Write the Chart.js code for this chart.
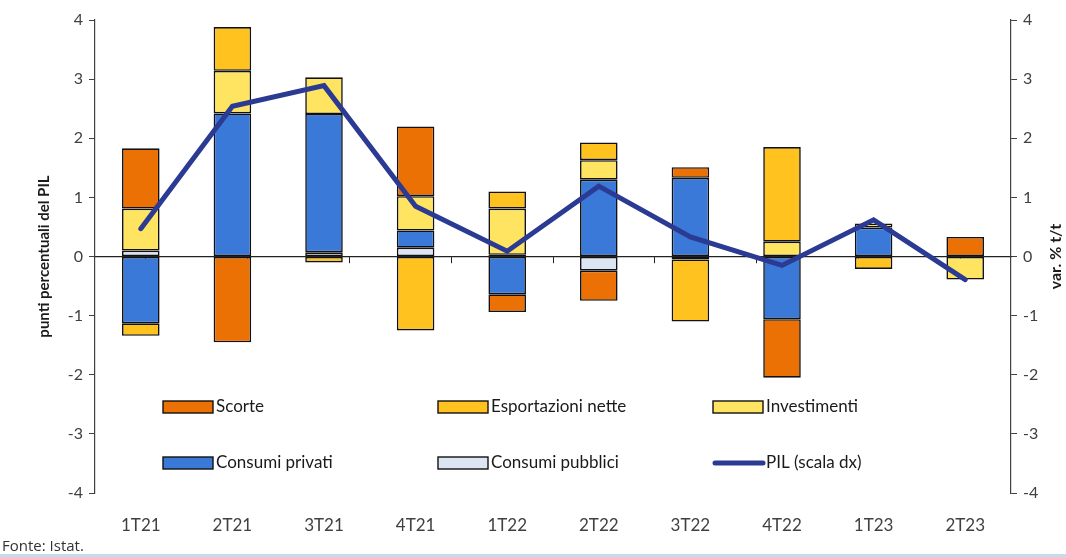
<!DOCTYPE html>
<html lang="it">
<head>
<meta charset="utf-8">
<title>Contributi alla crescita del PIL</title>
<script src="https://cdn.jsdelivr.net/npm/chart.js@4.4.1/dist/chart.umd.min.js"></script>
<style>
    html, body { margin: 0; padding: 0; background: #fff; }
    #contenitore { position: relative; width: 1066px; height: 557px; }
    #fonte { position: absolute; left: 2px; top: 535px; font: 15px 'Open Sans', sans-serif; color: #333; }
    #riga { position: absolute; left: 0; right: 0; bottom: 0; height: 3px; background: #c4dcf0; }
</style>
</head>
<body>
<div id="contenitore">
    <canvas id="grafico"></canvas>
    <div id="fonte">Fonte: Istat.</div>
    <div id="riga"></div>
</div>
<script>
// trimestri e contributi (punti percentuali del PIL)
const trimestri = ['1T21', '2T21', '3T21', '4T21', '1T22', '2T22', '3T22', '4T22', '1T23', '2T23'];
const consumi_pubblici   = [0.10, null, 0.07, 0.15, 0.03, -0.24, -0.05, null, null, null];
const consumi_privati    = [-1.13, 2.42, 2.34, 0.29, -0.64, 1.30, 1.33, -1.06, 0.49, null];
const investimenti       = [0.71, 0.72, 0.62, 0.58, 0.78, 0.33, null, 0.25, 0.07, -0.39];
const esportazioni_nette = [-0.21, 0.74, -0.10, -1.25, 0.29, 0.30, -1.05, 1.60, -0.21, null];
const scorte             = [1.02, -1.45, null, 1.18, -0.30, -0.51, 0.18, -0.99, null, 0.33];
// PIL, var. % t/t (scala destra)
const pil = [0.47, 2.54, 2.89, 0.85, 0.09, 1.19, 0.33, -0.15, 0.62, -0.39];
// etichette degli assi verticali
const tacche = [-4, -3, -2, -1, 0, 1, 2, 3, 4];

const grigio = '#404040';
const bordo_barre = '#111';

function serie_barre(nome, valori, colore) {
    return {
        type: 'bar',
        label: nome,
        data: valori,
        backgroundColor: colore,
        borderColor: bordo_barre,
        borderWidth: 1.6,
        borderSkipped: false,
        categoryPercentage: 1,
        barPercentage: 0.41,
        order: 1
    }
}

// legenda disegnata dentro l'area del grafico, 3 colonne x 2 righe
const legenda_interna = {
    id: 'legenda_interna',
    afterDraw(chart) {
        const ctx = chart.ctx
        const area = chart.chartArea
        const ds = chart.data.datasets
        const voci = [
            [ds[4], 0, 0], [ds[3], 1, 0], [ds[2], 2, 0],
            [ds[1], 0, 1], [ds[0], 1, 1], [ds[5], 2, 1]
        ]
        ctx.save()
        ctx.font = '17px Lato'
        ctx.textBaseline = 'middle'
        ctx.textAlign = 'left'
        voci.forEach(([d, col, riga]) => {
            const x = area.left + 68 + col * 275
            const y = area.bottom - 86 + riga * 56
            if (d.type === 'line') {
                ctx.strokeStyle = d.borderColor
                ctx.lineWidth = 5
                ctx.lineCap = 'round'
                ctx.beginPath()
                ctx.moveTo(x + 2, y)
                ctx.lineTo(x + 50, y)
                ctx.stroke()
            } else {
                ctx.fillStyle = d.backgroundColor
                ctx.fillRect(x, y - 6, 50, 12)
                ctx.strokeStyle = bordo_barre
                ctx.lineWidth = 1.4
                ctx.strokeRect(x, y - 6, 50, 12)
            }
            ctx.fillStyle = '#1a1a1a'
            ctx.fillText(d.label, x + 53, y)
        })
        ctx.restore()
    }
}

// titoli degli assi verticali, entrambi ruotati dal basso verso l'alto
const titoli_assi = {
    id: 'titoli_assi',
    afterDraw(chart) {
        const ctx = chart.ctx
        const area = chart.chartArea
        const centro = (area.top + area.bottom) / 2
        ctx.save()
        ctx.font = 'bold 15px Lato'
        ctx.fillStyle = '#1a1a1a'
        ctx.textAlign = 'center'
        ctx.textBaseline = 'middle'
        ctx.translate(44, centro)
        ctx.rotate(-Math.PI / 2)
        ctx.fillText('punti percentuali del PIL', 0, 0)
        ctx.restore()
        ctx.save()
        ctx.font = 'bold 16px Lato'
        ctx.fillStyle = '#1a1a1a'
        ctx.textAlign = 'center'
        ctx.textBaseline = 'middle'
        ctx.translate(chart.width - 10, centro)
        ctx.rotate(-Math.PI / 2)
        ctx.fillText('var. % t/t', 0, 0)
        ctx.restore()
    }
}

function asse_y(posizione, larghezza) {
    return {
        position: posizione,
        stacked: posizione === 'left',
        min: tacche[0],
        max: tacche[tacche.length - 1],
        ticks: {
            stepSize: 1,
            color: grigio,
            padding: 6,
            font: { family: 'Lato', size: 16 }
        },
        grid: { drawOnChartArea: false, drawTicks: true, tickLength: 6, color: grigio },
        border: { color: grigio, width: 1.2 },
        afterFit: s => { s.width = larghezza }
    }
}

const config = {
    data: {
        labels: trimestri,
        datasets: [
            serie_barre('Consumi pubblici', consumi_pubblici, '#dce6f2'),
            serie_barre('Consumi privati', consumi_privati, '#3b79d8'),
            serie_barre('Investimenti', investimenti, '#ffe462'),
            serie_barre('Esportazioni nette', esportazioni_nette, '#ffc21f'),
            serie_barre('Scorte', scorte, '#ec7104'),
            {
                type: 'line',
                label: 'PIL (scala dx)',
                data: pil,
                yAxisID: 'y2',
                borderColor: '#2b3a92',
                borderWidth: 5,
                borderCapStyle: 'round',
                borderJoinStyle: 'miter',
                pointRadius: 0,
                tension: 0,
                order: 0
            }
        ]
    },
    options: {
        responsive: true,
        maintainAspectRatio: false,
        animation: false,
        layout: { padding: { top: 20, left: 0, right: 0, bottom: 0 } },
        plugins: {
            legend: { display: false },
            tooltip: { enabled: false }
        },
        scales: {
            x: {
                stacked: true,
                grid: { display: false },
                border: { display: false },
                ticks: { color: grigio, padding: 14, font: { family: 'Lato', size: 17 } },
                afterFit: s => { s.height = 64 }
            },
            // linea dello zero con le tacche tra i trimestri
            asse_zero: {
                type: 'category',
                axis: 'x',
                position: { y: 0 },
                labels: trimestri,
                ticks: { display: false },
                grid: { drawOnChartArea: false, drawTicks: true, tickLength: 6, color: '#222', offset: true },
                border: { color: '#222', width: 1.2 }
            },
            y: asse_y('left', 95),
            y2: asse_y('right', 55)
        }
    },
    plugins: [legenda_interna, titoli_assi]
}

const ctx = document.getElementById('grafico').getContext('2d')
const grafico = new Chart(ctx, config)
</script>
</body>
</html>
